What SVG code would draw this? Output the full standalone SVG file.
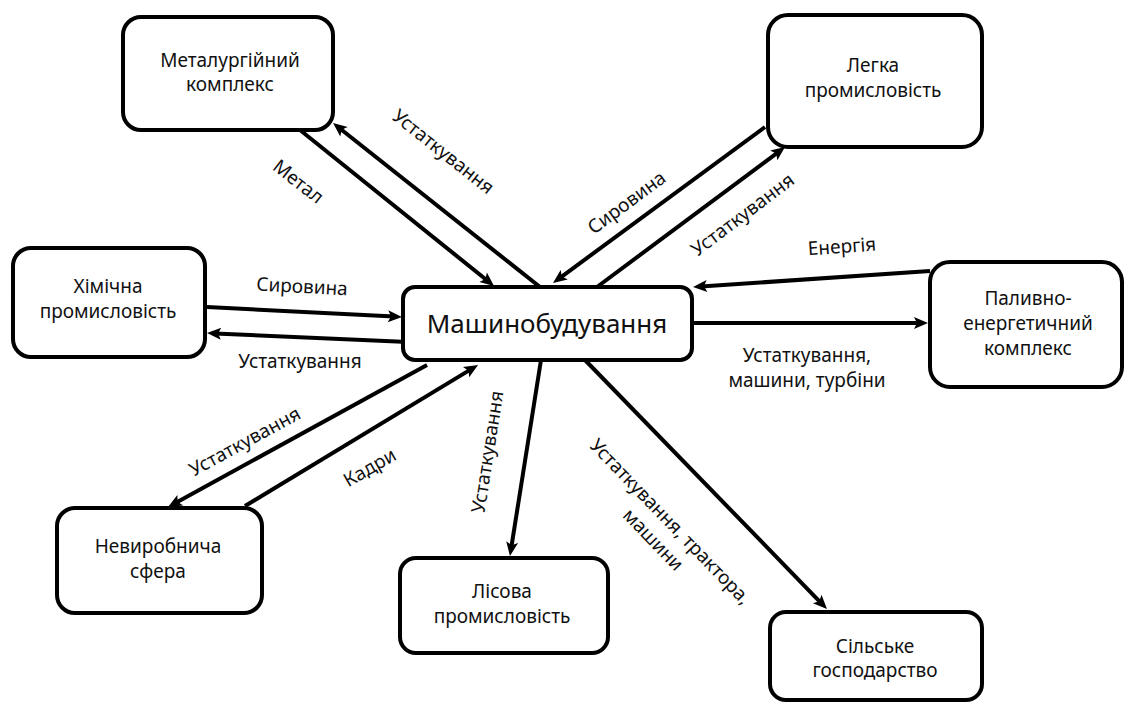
<svg xmlns="http://www.w3.org/2000/svg" width="1125" height="702" viewBox="0 0 1125 702">
<style>
.box{fill:#fff;stroke:#000;stroke-width:4}
.n{font-family:"Noto Sans","DejaVu Sans",sans-serif;font-size:19px;fill:#111;text-anchor:middle}
.c{font-family:"Noto Sans","DejaVu Sans",sans-serif;font-size:26px;fill:#111;text-anchor:middle}
.l{font-family:"Noto Sans","DejaVu Sans",sans-serif;font-size:19px;fill:#111;text-anchor:middle}
.e{fill:none;stroke:#000;stroke-width:4;marker-end:url(#ah)}
</style>
<defs>
<marker id="ah" markerUnits="userSpaceOnUse" markerWidth="16" markerHeight="14" refX="6" refY="6" orient="auto" viewBox="0 0 16 14" overflow="visible">
<path d="M0,0 L14,6 L0,12 L3,6 z" fill="#000"/>
</marker>
</defs>
<rect width="1125" height="702" fill="#fff"/>
<g id="connectors">
<line class="e" x1="300" y1="130" x2="487.8" y2="281"/>
<line class="e" x1="540" y1="287" x2="339.3" y2="128"/>
<line class="e" x1="765" y1="127" x2="559.4" y2="278.3"/>
<line class="e" x1="597" y1="287" x2="778.6" y2="151.8"/>
<line class="e" x1="930" y1="271" x2="701" y2="286.5"/>
<line class="e" x1="692" y1="323" x2="920" y2="323"/>
<line class="e" x1="207" y1="307" x2="394" y2="316.6"/>
<line class="e" x1="408" y1="342" x2="215" y2="333.4"/>
<line class="e" x1="427" y1="365" x2="175" y2="503.2"/>
<line class="e" x1="245" y1="506" x2="471.2" y2="369.1"/>
<line class="e" x1="541" y1="360" x2="511.2" y2="548.1"/>
<line class="e" x1="585" y1="360" x2="821.4" y2="603.3"/>
<g id="edge-labels">
<text class="l" transform="translate(443,152) rotate(38.4)" y="6">Устаткування</text>
<text class="l" transform="translate(298,182) rotate(38)" y="6">Метал</text>
<text class="l" transform="translate(627,203) rotate(-36.5)" y="6">Сировина</text>
<text class="l" transform="translate(743,215) rotate(-37)" y="6">Устаткування</text>
<text class="l" transform="translate(842,247) rotate(-4)" y="6">Енергія</text>
<text class="l" transform="translate(302,287) rotate(3)" y="6">Сировина</text>
<text class="l" x="300" y="368">Устаткування</text>
<text class="l" x="807" y="362">Устаткування,</text>
<text class="l" x="807" y="387">машини, турбіни</text>
<text class="l" transform="translate(245,442) rotate(-28.6)" y="6">Устаткування</text>
<text class="l" transform="translate(370,468) rotate(-30)" y="6">Кадри</text>
<text class="l" transform="translate(488,452) rotate(-81)" y="6">Устаткування</text>
<text class="l" transform="translate(670,522) rotate(46)" y="6">Устаткування, трактора,</text>
<text class="l" transform="translate(653,540) rotate(46)" y="6">машини</text>
</g>
</g>
<g id="center">
<rect class="box" x="403" y="287" width="289" height="73" rx="12"/>
<text class="c" x="547" y="333">Машинобудування</text>
</g>
<g id="metallurgy">
<rect class="box" x="123" y="17" width="210" height="113" rx="18"/>
<text class="n" x="230" y="67">Металургійний</text>
<text class="n" x="230" y="91">комплекс</text>
</g>
<g id="light">
<rect class="box" x="768" y="15" width="214" height="132" rx="20"/>
<text class="n" x="873" y="72">Легка</text>
<text class="n" x="873" y="97">промисловість</text>
</g>
<g id="chemical">
<rect class="box" x="13" y="248" width="192" height="109" rx="18"/>
<text class="n" x="108" y="293">Хімічна</text>
<text class="n" x="108" y="318">промисловість</text>
</g>
<g id="fuel">
<rect class="box" x="930" y="262" width="192" height="125" rx="20"/>
<text class="n" x="1028" y="305">Паливно-</text>
<text class="n" x="1028" y="330">енергетичний</text>
<text class="n" x="1028" y="355">комплекс</text>
</g>
<g id="nonproductive">
<rect class="box" x="57" y="508" width="205" height="105" rx="18"/>
<text class="n" x="158" y="553">Невиробнича</text>
<text class="n" x="158" y="578">сфера</text>
</g>
<g id="forest">
<rect class="box" x="400" y="558" width="208" height="95" rx="16"/>
<text class="n" x="502" y="598">Лісова</text>
<text class="n" x="502" y="623">промисловість</text>
</g>
<g id="agriculture">
<rect class="box" x="770" y="612" width="212" height="88" rx="16"/>
<text class="n" x="875" y="653">Сільське</text>
<text class="n" x="875" y="677">господарство</text>
</g>
</svg>
